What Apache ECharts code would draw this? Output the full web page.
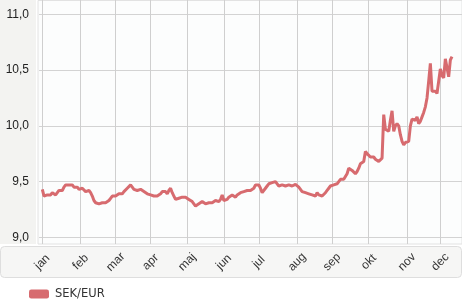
<!DOCTYPE html>
<html>
<head>
<meta charset="utf-8">
<script src="https://cdn.jsdelivr.net/npm/echarts@6/dist/echarts.min.js"></script>
<style>
html,body{margin:0;padding:0;background:#ffffff;}
#chart{width:462px;height:301px;}
</style>
</head>
<body>
<div id="chart"></div>
<script>
// Month tick labels (Swedish)
var monthLabels = ['jan','feb','mar','apr','maj','jun','jul','aug','sep','okt','nov','dec'];
// Y tick labels
var yTicks = ['9,0','9,5','10,0','10,5','11,0'];
var seriesName = 'SEK/EUR';

// Daily (weekday) SEK/EUR values, 2008-01-01 .. 2008-12-10
var janVals = [9.43,9.37,9.36,9.38,9.39,9.38,9.40,9.39,9.38,9.40,9.42,9.41,9.42,9.45,9.47,9.48,9.47,9.48,9.47,9.45,9.46,9.45,9.43];
var febVals = [9.42,9.44,9.43,9.41,9.42,9.42,9.40,9.37,9.33,9.31,9.31,9.30,9.31,9.31,9.30,9.31,9.31,9.33,9.35,9.37,9.36];
var marVals = [9.37,9.36,9.39,9.40,9.39,9.41,9.42,9.44,9.45,9.47,9.45,9.43,9.43,9.42,9.43,9.43,9.42,9.41,9.40,9.39,9.38];
var aprVals = [9.38,9.37,9.37,9.38,9.37,9.38,9.39,9.41,9.40,9.41,9.39,9.42,9.44,9.40,9.37,9.34,9.35,9.35,9.36,9.36,9.35,9.36];
var majVals = [9.36,9.34,9.33,9.32,9.30,9.28,9.29,9.30,9.31,9.32,9.31,9.30,9.31,9.31,9.30,9.31,9.32,9.33,9.32,9.32,9.34,9.38];
var junVals = [9.33,9.33,9.34,9.36,9.37,9.38,9.37,9.36,9.38,9.39,9.40,9.41,9.41,9.42,9.42,9.41,9.42,9.43,9.44,9.47,9.47];
var julVals = [9.47,9.44,9.40,9.41,9.44,9.46,9.48,9.48,9.49,9.50,9.50,9.48,9.46,9.46,9.47,9.46,9.46,9.47,9.47,9.46,9.46,9.47,9.475];
var augVals = [9.47,9.45,9.43,9.41,9.41,9.40,9.40,9.39,9.39,9.38,9.38,9.37,9.40,9.38,9.365,9.37,9.38,9.40,9.42,9.44,9.46];
var sepVals = [9.46,9.47,9.47,9.48,9.49,9.52,9.53,9.52,9.53,9.57,9.62,9.61,9.60,9.61,9.57,9.59,9.62,9.66,9.66,9.68,9.77,9.75];
var oktVals = [9.74,9.72,9.73,9.72,9.70,9.69,9.68,9.68,9.71,10.10,9.97,9.96,9.95,10.05,10.135,9.95,10.00,10.02,10.00,9.92,9.86,9.83,9.85];
var novVals = [9.84,9.86,10.00,10.06,10.07,10.05,10.08,10.02,10.04,10.08,10.12,10.17,10.25,10.40,10.56,10.31,10.30,10.31,10.29,10.30];
var decVals = [10.51,10.45,10.43,10.60,10.52,10.44,10.59,10.62];

var values = [].concat(janVals,febVals,marVals,aprVals,majVals,junVals,julVals,augVals,sepVals,oktVals,novVals,decVals);

// Build weekday category axis: 2 leading weekdays of Dec 2007, through 2008-12-18
function fmt(d){
  var m = d.getUTCMonth()+1, day = d.getUTCDate();
  return d.getUTCFullYear()+'-'+(m<10?'0':'')+m+'-'+(day<10?'0':'')+day;
}
var categories = [];
var d = new Date(Date.UTC(2007,11,28));
var end = new Date(Date.UTC(2008,11,18));
while (d <= end) {
  var wd = d.getUTCDay();
  if (wd !== 0 && wd !== 6) categories.push(fmt(d));
  d = new Date(d.getTime() + 86400000);
}
var startIdx = categories.indexOf('2008-01-01');
var seriesData = categories.map(function(c, i){
  var k = i - startIdx;
  return (k >= 0 && k < values.length) ? values[k] : null;
});
// month-start indices
var monthStart = {};
for (var i = 0; i < categories.length; i++) {
  var c = categories[i];
  if (c.slice(0,4) !== '2008') continue;
  var prev = categories[i-1];
  if (!prev || prev.slice(5,7) !== c.slice(5,7)) monthStart[i] = true;
}

var chart = echarts.init(document.getElementById('chart'), null, {renderer:'canvas'});
var option = {
  animation: false,
  backgroundColor: '#ffffff',
  graphic: [
    {type:'rect', z:-10, silent:true, shape:{x:0,y:0,width:36,height:244}, style:{fill:'#f3f3f1'}},
    {type:'rect', z:-10, silent:true, shape:{x:38,y:0.5,width:424,height:243.5}, style:{fill:'#fcfdfd', stroke:'#e2e2e2', lineWidth:1}},
    {type:'rect', z:-10, silent:true, shape:{x:0.5,y:246.5,width:461,height:31,r:4}, style:{fill:'#f6f6f5', stroke:'#dedede', lineWidth:1}}
  ],
  grid: [
    {left:39, right:0, top:0, height:244},
    {left:39, right:0, top:14.3, height:223}
  ],
  legend: {
    left: 29, top: 288, padding: 0,
    itemWidth: 20, itemHeight: 9, itemGap: 10,
    icon: 'roundRect',
    textStyle: {fontFamily:'DejaVu Sans', fontSize:11.5, color:'#333333', padding:[0,0,0,1]},
    data: [seriesName]
  },
  xAxis: [
    {
      gridIndex: 0, type:'category', data: categories, boundaryGap:false,
      axisLine:{show:false}, axisTick:{show:false},
      splitLine:{show:true, interval:function(idx){return !!monthStart[idx];}, lineStyle:{color:'#cfcfcf', width:1}},
      axisLabel:{
        show:true, interval:function(idx){return !!monthStart[idx];},
        rotate:45, align:'center', verticalAlign:'middle', margin:18,
        fontFamily:'Liberation Sans', fontSize:12, color:'#333333',
        formatter:function(v){ return monthLabels[parseInt(v.slice(5,7),10)-1]; }
      }
    },
    {
      gridIndex: 1, type:'category', data: categories, boundaryGap:false,
      show:false
    }
  ],
  yAxis: [
    {gridIndex:0, type:'value', min:0, max:1, show:false},
    {
      gridIndex:1, type:'value', min:9, max:11, interval:0.5,
      axisLine:{show:false}, axisTick:{show:false},
      splitLine:{show:true, lineStyle:{color:'#d3d3d3', width:1}},
      axisLabel:{
        margin:10, fontFamily:'Liberation Sans', fontSize:12, color:'#222222',
        formatter:function(v){ return yTicks[Math.round((v-9)/0.5)]; }
      }
    }
  ],
  series: [{
    name: seriesName,
    type: 'line',
    xAxisIndex:1, yAxisIndex:1,
    data: seriesData,
    showSymbol:false, symbol:'none',
    connectNulls:false,
    itemStyle:{color:'#d76b6f'},
    lineStyle:{color:'#d76b6f', width:3}
  }]
};
chart.setOption(option);
</script>
</body>
</html>
